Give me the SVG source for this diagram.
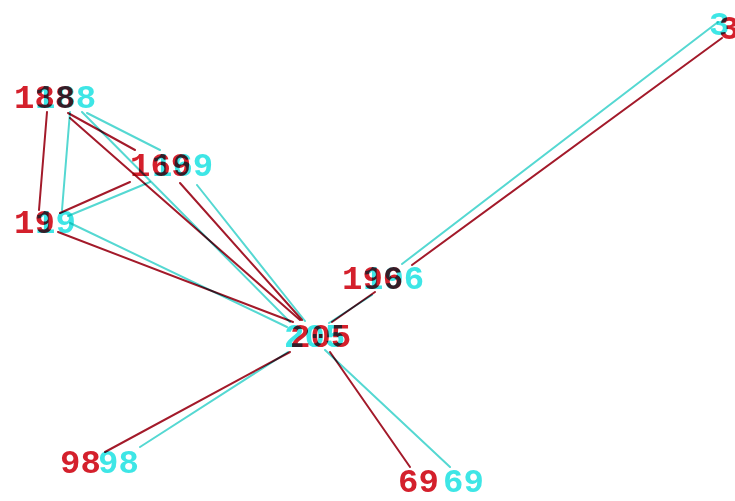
<svg xmlns="http://www.w3.org/2000/svg" width="735" height="501" viewBox="0 0 735 501">
<style>
.t{font-family:"Liberation Mono","DejaVu Sans Mono",monospace;font-size:34px;font-weight:bold;mix-blend-mode:multiply}
.tr{fill:#d4202c}
.tc{fill:#3ee6e6}
.e{stroke-width:2;fill:none;mix-blend-mode:multiply;stroke-linecap:round}
.er{stroke:#a31a2a}
.ec{stroke:#55d8d2}
</style>
<rect width="735" height="501" fill="#ffffff"/>
<g id="connectors">
<line class="e er" x1="47" y1="112" x2="39" y2="210"/>
<line class="e ec" x1="70" y1="112" x2="62" y2="210"/>
<line class="e er" x1="68" y1="113" x2="135" y2="150"/>
<line class="e ec" x1="87" y1="113" x2="160" y2="150"/>
<line class="e er" x1="70" y1="118" x2="300" y2="320"/>
<line class="e ec" x1="82" y1="112" x2="290" y2="322"/>
<line class="e er" x1="180" y1="183" x2="302" y2="320"/>
<line class="e ec" x1="197" y1="185" x2="305" y2="321"/>
<line class="e er" x1="60" y1="213" x2="130" y2="182"/>
<line class="e ec" x1="68" y1="216" x2="150" y2="182"/>
<line class="e er" x1="58" y1="232" x2="293" y2="322"/>
<line class="e ec" x1="70" y1="223" x2="287" y2="327"/>
<line class="e er" x1="375" y1="292" x2="332" y2="322"/>
<line class="e ec" x1="372" y1="295" x2="329" y2="323"/>
<line class="e er" x1="412" y1="265" x2="722" y2="38"/>
<line class="e ec" x1="402" y1="264" x2="718" y2="22"/>
<line class="e er" x1="290" y1="352" x2="105" y2="452"/>
<line class="e ec" x1="288" y1="352" x2="140" y2="447"/>
<line class="e er" x1="330" y1="352" x2="410" y2="467"/>
<line class="e ec" x1="325" y1="350" x2="450" y2="467"/>
</g>
<g id="n188"><text class="t tr" x="14" y="108">188</text><text class="t tc" x="35" y="108">188</text></g>
<g id="n169"><text class="t tr" x="130" y="176">169</text><text class="t tc" x="152" y="176">169</text></g>
<g id="n19"><text class="t tr" x="14" y="233">19</text><text class="t tc" x="35" y="233">19</text></g>
<g id="n196"><text class="t tr" x="342" y="289">196</text><text class="t tc" x="363" y="289">196</text></g>
<g id="n205"><text class="t tr" x="290" y="347">205</text><text class="t tc" x="284" y="347">205</text></g>
<g id="n98"><text class="t tr" x="60" y="473">98</text><text class="t tc" x="98" y="473">98</text></g>
<g id="n69"><text class="t tr" x="398" y="492">69</text><text class="t tc" x="443" y="492">69</text></g>
<g id="n3"><text class="t tr" x="719" y="39">3</text><text class="t tc" x="709" y="35">3</text></g>
</svg>
